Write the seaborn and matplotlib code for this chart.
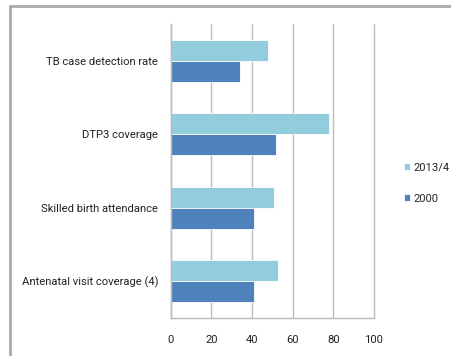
import matplotlib
matplotlib.use("Agg")
import matplotlib.pyplot as plt
from matplotlib.patches import Rectangle
from matplotlib.ticker import FixedLocator
import seaborn as sns
import pandas as pd

indicators = ["TB case detection rate", "DTP3 coverage",
              "Skilled birth attendance", "Antenatal visit coverage (4)"]
years = ["2013/4", "2000"]
values_2013 = [48, 78, 51, 53]
values_2000 = [34, 52, 41, 41]
xticks = [0, 20, 40, 60, 80, 100]
colors = ["#93CDDD", "#4F81BD"]

df = pd.DataFrame({
    "indicator": indicators * 2,
    "year": [years[0]] * 4 + [years[1]] * 4,
    "value": values_2013 + values_2000,
})

sns.set_style("white")
plt.rcParams["font.family"] = ["Roboto", "DejaVu Sans"]
FS = 8.1

fig = plt.figure(figsize=(4.52, 3.56), dpi=100)
ax = fig.add_axes([0.378, 0.107, 0.449, 0.826])

sns.barplot(data=df, y="indicator", x="value", hue="year", hue_order=years,
            order=indicators, palette=colors, width=0.57, orient="h",
            saturation=1, edgecolor="white", linewidth=0.6, ax=ax)

ax.set_xlim(0, 100)
ax.set_ylim(3.5, -0.5)
ax.set_xticks(xticks)
ax.set_xticklabels([str(t) for t in xticks], fontsize=FS, color="#222222")
ax.set_xlabel("")
ax.set_ylabel("")
ax.tick_params(axis="y", length=0, labelsize=FS, labelcolor="#222222", pad=9)
ax.yaxis.set_minor_locator(FixedLocator([-0.5, 0.5, 1.5, 2.5, 3.5]))
ax.tick_params(axis="y", which="minor", length=4, color="#999999", width=0.8)
ax.tick_params(axis="x", length=4, color="#999999", width=0.8, pad=8)

ax.grid(axis="x", color="#BBBBBB", linewidth=1)
for gl in ax.get_xgridlines():
    gl.set_clip_on(False)
ax.set_axisbelow(True)
for side in ["top", "right"]:
    ax.spines[side].set_visible(False)
for side in ["left", "bottom"]:
    ax.spines[side].set_color("#BBBBBB")
    ax.spines[side].set_linewidth(1)

handles, labels = ax.get_legend_handles_labels()
ax.legend(handles, labels, loc="center left", bbox_to_anchor=(0.893, 0.486),
          bbox_transform=fig.transFigure, frameon=False, fontsize=FS,
          handlelength=0.55, handleheight=0.55, handletextpad=0.35,
          labelspacing=1.9, borderpad=0, borderaxespad=0)

# outer chart border
fig.patches.append(Rectangle((10 / 452, -0.1), 1.2, 1 - 6 / 356 + 0.1,
                             transform=fig.transFigure, fill=False,
                             edgecolor="#AAAAAA", linewidth=2))

fig.savefig("out.png", dpi=100)
